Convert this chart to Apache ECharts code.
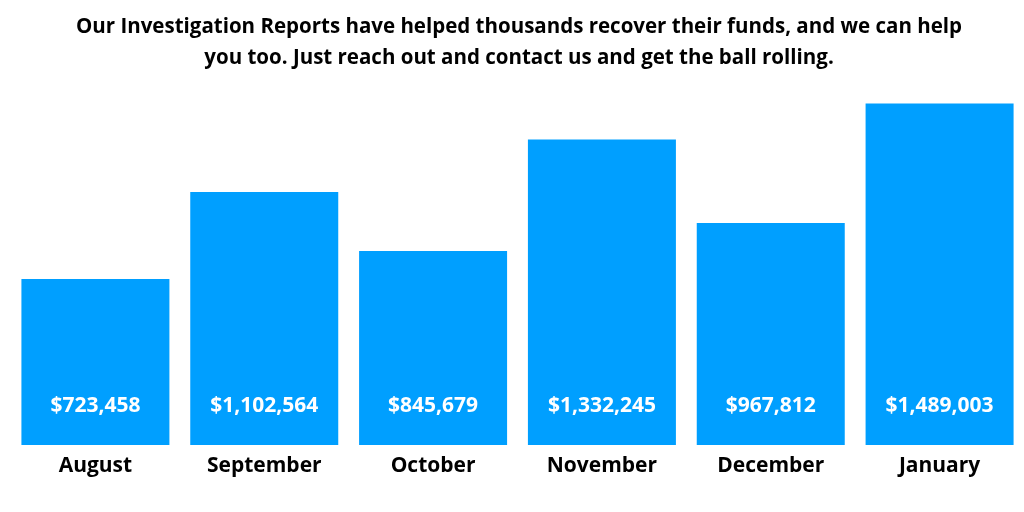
<!DOCTYPE html>
<html>
<head>
<meta charset="utf-8">
<script src="https://cdn.jsdelivr.net/npm/echarts@6/dist/echarts.min.js"></script>
<style>html,body{margin:0;padding:0;background:#fff}#c{width:1024px;height:512px}</style>
</head>
<body>
<div id="c"></div>
<script>
const titleText = "Our Investigation Reports have helped thousands recover their funds, and we can help\nyou too. Just reach out and contact us and get the ball rolling.";
const months = ["August", "September", "October", "November", "December", "January"];
const amounts = [723458, 1102564, 845679, 1332245, 967812, 1489003];

const chart = echarts.init(document.getElementById('c'));
const font = '"Open Sans", "Noto Sans", sans-serif';
chart.setOption({
  animation: false,
  title: {
    text: titleText,
    left: 514,
    top: 7,
    textAlign: 'center',
    textStyle: { fontFamily: font, fontWeight: 'bold', fontSize: 20.5, color: '#000', lineHeight: 31 }
  },
  grid: { left: 11, right: -15, top: 78, bottom: 67 },
  xAxis: {
    type: 'category',
    data: months,
    axisLine: { show: false },
    axisTick: { show: false },
    axisLabel: { margin: 11, fontFamily: font, fontWeight: 'bold', fontSize: 21, color: '#000' }
  },
  yAxis: { type: 'value', min: 0, max: 1600000, show: false, splitLine: { show: false } },
  series: [{
    type: 'bar',
    data: amounts,
    barWidth: 148,
    itemStyle: { color: '#009FFF' },
    label: {
      show: true,
      position: 'insideBottom',
      distance: 28,
      fontFamily: font,
      fontWeight: 'bold',
      fontSize: 21,
      color: '#fff',
      formatter: p => '$' + p.value.toLocaleString('en-US')
    }
  }]
});
</script>
</body>
</html>
